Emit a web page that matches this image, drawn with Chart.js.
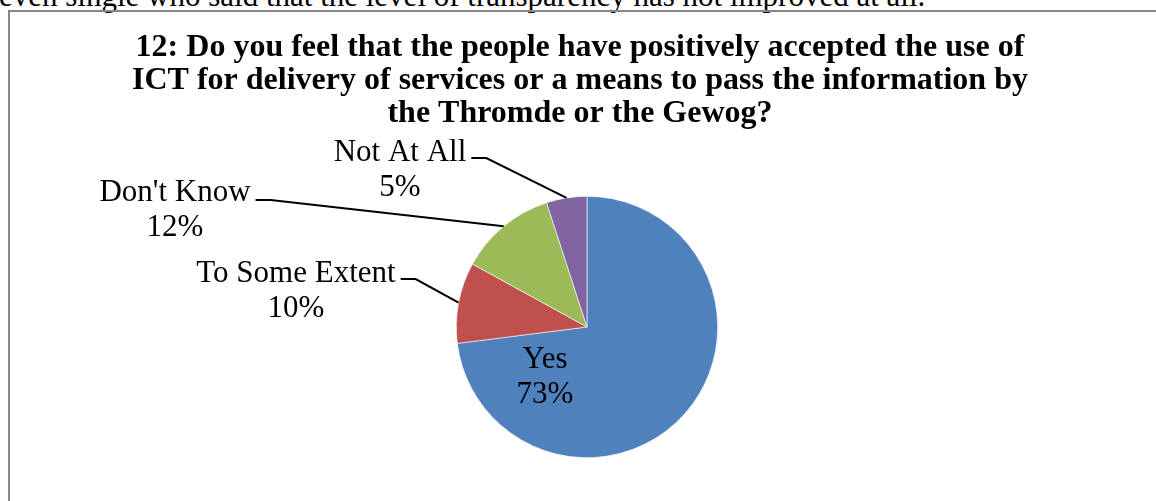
<!DOCTYPE html>
<html>
<head>
<meta charset="utf-8">
<script src="https://cdn.jsdelivr.net/npm/chart.js@4.4.1/dist/chart.umd.min.js"></script>
<style>
    html, body { margin: 0; padding: 0; background: #fff; overflow: hidden; }
    #page { position: relative; width: 1156px; height: 501px; overflow: hidden; }
    #prev-line {
        position: absolute; left: -1px; top: -21px; white-space: nowrap;
        font-family: 'Liberation Serif', 'Times New Roman', serif; font-size: 31px; line-height: 34px; color: #000;
    }
    #frame {
        position: absolute; left: 8px; top: 10px; width: 1160px; height: 520px;
        border-left: 2px solid #878787; border-top: 2px solid #878787;
    }
    #chart-wrap { position: absolute; left: 0; top: 0; width: 1156px; height: 501px; }
</style>
</head>
<body>
<div id="page">
    <div id="prev-line">even single who said that the level of transparency has not improved at all.</div>
    <div id="frame"></div>
    <div id="chart-wrap"><canvas id="pieChart"></canvas></div>
</div>
<script>
// chart data
const categories = ['Yes', 'To Some Extent', "Don't Know", 'Not At All'];
const shares = [73, 10, 12, 5];
const sliceColors = ['#4F81BD', '#C0504D', '#9BBB59', '#8064A2'];
const titleLines = [
    '12: Do you feel that the people have positively accepted the use of',
    'ICT for delivery of services or a means to pass the information by',
    'the Thromde or the Gewog?'
];

// label placement relative to the pie centre: dx = text centre, by = first baseline,
// stub = vertical shift of the leader start (no leader for the inside label)
const labelSpots = [
    { dx: -42, by: 41, leader: false },
    { dx: -291, by: -45, leader: true, stub: -3 },
    { dx: -412, by: -126, leader: true, stub: -1 },
    { dx: -187, by: -166, leader: true, stub: -3 }
];

const serif = '"Liberation Serif", "Times New Roman", serif';
const labelLine = 35;

const drawText = {
    id: 'drawText',
    afterDatasetsDraw(chart) {
        const ctx = chart.ctx;
        const arcs = chart.getDatasetMeta(0).data;
        ctx.save();
        ctx.fillStyle = '#000';
        ctx.textAlign = 'center';
        ctx.textBaseline = 'alphabetic';

        // title
        ctx.font = 'bold 32px ' + serif;
        titleLines.forEach((t, k) => ctx.fillText(t, 580, 56 + k * 33));

        // slice labels with leader lines
        ctx.font = '31px ' + serif;
        arcs.forEach((arc, i) => {
            const spot = labelSpots[i];
            const cx = arc.x + spot.dx;
            const base = arc.y + spot.by;
            const lines = [categories[i], shares[i] + '%'];
            lines.forEach((t, k) => ctx.fillText(t, cx, base + k * labelLine));

            if (spot.leader) {
                const w = ctx.measureText(lines[0]).width;
                const sx = cx + w / 2 + 5;
                const sy = base + spot.stub;
                const mid = (arc.startAngle + arc.endAngle) / 2;
                const ex = arc.x + Math.cos(mid) * arc.outerRadius;
                const ey = arc.y + Math.sin(mid) * arc.outerRadius;
                ctx.beginPath();
                ctx.strokeStyle = '#000';
                ctx.lineWidth = 2;
                ctx.moveTo(sx, sy);
                ctx.lineTo(sx + 15, sy);
                ctx.lineTo(ex, ey);
                ctx.stroke();
            }
        });
        ctx.restore();
    }
};

document.addEventListener('DOMContentLoaded', () => {
    const ctx = document.getElementById('pieChart').getContext('2d');
    new Chart(ctx, {
        type: 'pie',
        data: {
            labels: categories,
            datasets: [{
                data: shares,
                backgroundColor: sliceColors,
                borderColor: '#ffffff',
                borderWidth: 0.6
            }]
        },
        options: {
            responsive: true,
            maintainAspectRatio: false,
            animation: false,
            layout: {
                padding: { left: 456, right: 438, top: 196, bottom: 43 }
            },
            plugins: {
                legend: { display: false },
                tooltip: { enabled: false },
                title: { display: false }
            }
        },
        plugins: [drawText]
    });
});
</script>
</body>
</html>
